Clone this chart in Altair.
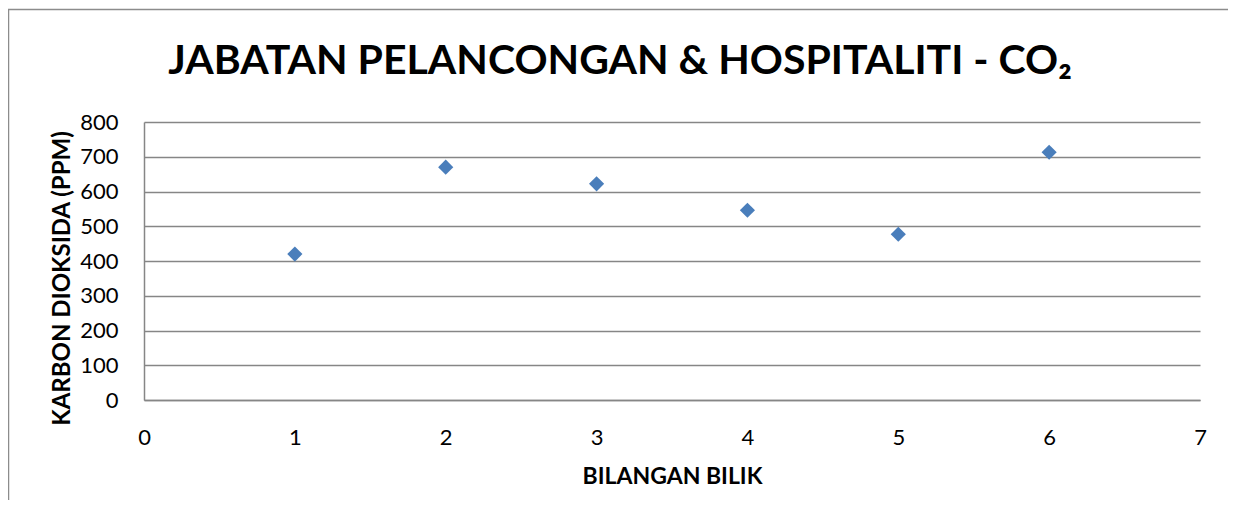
import altair as alt
import pandas as pd

rooms = [1, 2, 3, 4, 5, 6]
co2 = [420, 670, 622, 546, 477, 713]
x_ticks = [0, 1, 2, 3, 4, 5, 6, 7]
y_ticks = [0, 100, 200, 300, 400, 500, 600, 700, 800]

title_text = "JABATAN PELANCONGAN & HOSPITALITI - CO₂"
x_title = "BILANGAN BILIK"
y_title = "KARBON DIOKSIDA (PPM)"

df = pd.DataFrame({"bilik": rooms, "co2": co2})
one = pd.DataFrame({"t": [title_text]})
FONT = "Lato"
GRID = "#868686"

points = alt.Chart(df).mark_point(
    shape="diamond", filled=True, size=230, color="#4A7EBB", opacity=1
).encode(
    x=alt.X("bilik:Q", scale=alt.Scale(domain=[0, 7], nice=False),
            axis=alt.Axis(values=x_ticks, title=x_title, grid=False, ticks=False,
                          domainColor=GRID, domainWidth=1.5,
                          labelFont=FONT, labelFontSize=22, labelColor="#000",
                          labelPadding=27, labelFlush=False,
                          titleFont=FONT, titleFontSize=23, titleFontWeight="bold",
                          titleColor="#000", titleY=83, titleBaseline="alphabetic")),
    y=alt.Y("co2:Q", scale=alt.Scale(domain=[0, 800], nice=False),
            axis=alt.Axis(values=y_ticks, title=y_title, grid=True, ticks=False,
                          gridColor=GRID, gridWidth=1.5, domainColor=GRID, domainWidth=1.5,
                          labelFont=FONT, labelFontSize=22, labelColor="#000",
                          labelPadding=26, labelFlush=False,
                          titleFont=FONT, titleFontSize=24, titleFontWeight="bold",
                          titleColor="#000", titleAngle=-90, titleX=-82, titleY=156,
                          titleAlign="center", titleBaseline="middle")),
)

title = alt.Chart(one).mark_text(
    font=FONT, fontSize=41, fontWeight="bold", color="#000",
    align="center", baseline="alphabetic"
).encode(text="t:N", x=alt.value(476), y=alt.value(-48))

frame_top = alt.Chart(one).mark_rule(
    stroke="#8c8c8c", strokeWidth=1.5, clip=False
).encode(x=alt.value(-136), x2=alt.value(1100), y=alt.value(-112.5))

frame_left = alt.Chart(one).mark_rule(
    stroke="#8c8c8c", strokeWidth=1.5, clip=False
).encode(x=alt.value(-135.5), y=alt.value(-113), y2=alt.value(500))

chart = alt.layer(frame_top, frame_left, points, title).properties(
    width=1056, height=278,
    background="white",
    autosize=alt.AutoSizeParams(type="none"),
    padding={"left": 136, "top": 114, "right": 28, "bottom": 100},
).configure_view(stroke="transparent", strokeWidth=0)

chart.save("out.html", embed_options={"renderer": "svg", "actions": False})
